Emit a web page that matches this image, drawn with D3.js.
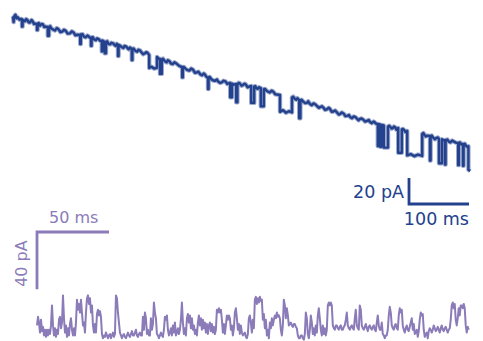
<!DOCTYPE html>
<html>
<head>
<meta charset="utf-8">
<script src="https://cdn.jsdelivr.net/npm/d3@7"></script>
<style>
  html, body { margin: 0; padding: 0; background: #fff; }
  svg { display: block; }
  text { font-family: 'DejaVu Sans', sans-serif; }
</style>
</head>
<body>
<svg width="483" height="341"></svg>
<script>
// top recording: [time ms, current pA], drifting baseline with channel openings
const topTrace = [
  [0,-1.0],[1,-5.5],[2,-1.2],[4,0.2],[6,-2.5],[8,-1.8],[11,-3.6],[14,-3.0],
  [15,-3.8],[15,-8.8],[16,-8.8],[16,-3.6],
  [20,-4.8],[22,-3.2],[24,-3.9],[26,-5.6],[28,-5.8],[31,-3.9],[33,-5.0],[35,-6.9],[37,-6.6],
  [40,-6.9],[40,-11.5],[41,-11.5],[41,-6.8],
  [43,-6.2],[45,-8.2],[48,-6.9],[50,-7.2],[52,-9.3],[54,-8.9],
  [58,-9.2],[58,-16],[60,-16],[60,-9.4],
  [62,-8.6],[64,-10.4],[67,-11.2],[70,-11.9],[73,-10.1],[76,-11.0],[79,-13.2],[82,-12.8],
  [85,-11.4],[88,-12.2],[91,-14.3],[95,-14.1],[98,-12.6],[101,-13.4],[104,-15.6],[107,-15.2],
  [112,-15.4],[112,-22.4],[113,-22.4],[113,-15.0],
  [116,-14.8],[118,-16.6],[121,-17.2],[124,-15.8],[126,-16.4],[128,-17.4],
  [130,-17.7],[130,-23.7],[131,-23.7],[131,-17.2],
  [133,-17.0],[135,-18.8],[138,-19.4],[140,-18.0],[143,-18.6],[145,-19.8],
  [148,-20],[148,-28],[149,-28],[149,-19.6],
  [153,-20.8],[153,-29.5],[155,-29.5],[155,-20.6],
  [157,-20.2],[159,-22.2],[162,-22.6],[164,-21.4],[167,-21.8],[169,-23.0],[171,-23.8],[173,-22.2],
  [175,-23.1],[175,-31.6],[176,-31.6],[176,-23.0],
  [178,-23.4],[181,-24.6],[184,-25.4],[186,-23.8],[189,-24.4],[191,-25.6],[193,-26.4],[195,-25.0],
  [198,-26.2],[198,-34.7],[199,-34.7],[199,-26.0],
  [201,-25.8],[204,-27.6],[207,-28.2],[209,-26.8],[212,-27.4],[214,-28.6],[217,-30.2],
  [220,-29.4],[222,-28.6],[224,-29.0],
  [227,-30.8],[227,-40.8],[231,-39.8],[235,-41.2],[240,-40.6],[240,-32.3],
  [243,-33.5],
  [245,-33.8],[245,-45.3],[248,-45.3],[248,-34.2],
  [250,-33.6],[253,-35.6],[256,-36.4],[258,-34.8],[261,-35.6],[263,-37.2],[266,-37.8],
  [269,-36.4],[272,-37.2],[275,-38.4],[277,-39.2],[279,-39.6],
  [282,-40],[282,-48],[283,-48],[283,-40.2],
  [285,-40.0],[288,-41.6],[291,-42.4],[294,-42.8],[297,-41.2],[300,-42.0],[303,-44.4],
  [306,-44.2],[309,-43.6],[312,-45.6],[315,-46.4],[318,-45.0],[320,-45.8],[322,-47.4],
  [325,-48.5],[325,-57],[326,-57],[326,-48.0],
  [328,-47.6],[331,-49.6],[334,-50.4],[337,-50.6],[340,-49.6],[342,-51.2],[345,-52.2],
  [348,-51.8],[351,-50.6],[354,-51.0],[357,-53.0],[359,-52.6],
  [362,-52.3],[362,-63.3],[365,-63.3],[365,-52.8],
  [368,-53.6],
  [372,-53.1],[372,-67.1],[374,-67.1],[374,-53.4],
  [376,-52.2],[378,-52.6],[381,-54.4],[383,-54.0],[386,-52.8],[388,-53.4],[391,-55.6],[393,-55.2],
  [397,-54.6],[397,-67.6],[402,-67.6],[402,-55.0],
  [404,-54.8],[406,-56.4],[408,-56.8],[410,-55.6],
  [413,-56.2],[413,-70.2],[418,-70.2],[418,-57.0],
  [420,-56.8],[423,-58.4],[426,-59.2],[428,-59.6],[431,-58.2],[434,-59.0],[437,-61.0],[440,-61.2],
  [445,-61.5],[445,-74.5],[450,-73.2],[455,-75.2],[460,-74.0],[465,-75.0],[465,-63.4],
  [467,-62.8],[470,-64.6],[472,-65.2],[474,-64.0],
  [477,-65.4],[477,-79.4],[479,-79.4],[479,-65.6],
  [481,-65.2],[484,-66.8],[487,-67.8],[490,-67.6],[492,-66.4],[495,-68.5],[498,-69.4],
  [501,-68.0],[504,-68.8],[507,-70.2],[510,-71.4],[512,-70.8],[515,-70.2],[518,-71.6],
  [520,-73.0],[523,-72.6],[526,-71.4],[528,-72.0],[531,-74.4],[534,-74.2],[537,-73.4],
  [540,-75.0],[543,-76.6],[545,-76.2],[548,-75.0],[551,-75.8],[554,-77.8],[557,-77.6],
  [560,-77.0],[562,-78.5],[565,-79.4],[568,-78.0],[571,-78.6],[573,-79.6],[576,-81.0],
  [578,-80.0],[581,-79.6],[584,-80.6],[587,-82.0],[590,-81.4],[593,-80.8],[595,-82.3],
  [598,-83.2],[601,-82.0],[603,-82.6],[605,-83.6],
  [608,-83.8],[608,-100.8],[610,-100.8],[610,-84.0],[612,-84.4],[612,-101.4],[614,-101.4],[614,-84.6],
  [618,-85.0],[618,-102],[625,-102],[625,-85.8],
  [627,-85.2],[629,-86.2],[631,-87.4],[633,-87.0],[635,-85.8],[637,-86.4],[639,-88.2],[640,-87.6],
  [642,-86.9],[642,-106],[648,-106],[648,-88.0],
  [650,-87.6],[652,-88.6],[654,-90.0],[655,-89.4],
  [657,-89.2],[657,-108],[663,-107],[669,-108.6],[675,-107.4],[682,-108.4],[682,-91.5],
  [684,-90.8],[686,-92.2],[688,-93.4],[690,-92.8],
  [695,-93.1],[695,-112],[696,-112],[696,-93.6],
  [698,-92.8],[700,-94.2],[703,-95.6],[705,-94.8],[708,-94.2],
  [710,-95.4],[710,-114],[715,-114],[715,-95.6],
  [718,-96.4],
  [720,-96.2],[720,-115],[721,-115],[721,-96.4],
  [724,-95.8],[726,-97.2],[729,-98.0],[732,-96.6],[735,-97.4],[738,-98.2],
  [742,-98.5],[742,-115.5],[743,-115.5],[743,-98.4],
  [745,-98.0],[747,-99.6],
  [750,-99.2],[750,-116],[751,-116],[751,-99.6],
  [753,-99.0],[755,-100.6],[757,-101.4],
  [759,-101],[759,-119],[762,-120]
];

// bottom recording: current in pA, one sample every bottomDt ms
const bottomDt = 0.694;
const bottomTrace = [
  6,12,8,1,10,2,5,-1,3,-2,
  3,-1,3,0,6,20,6,-1,4,-2,
  3,0,10,12,4,8,27,11,1,6,
  -2,4,-1,7,11,3,-1,4,-1,8,
  24,17,21,15,24,15,6,8,1,15,
  25,27,21,25,15,20,6,1,7,1,
  14,17,13,16,12,0,-3,-1,-2,1,
  -1,-3,-1,0,-3,-1,1,-2,0,27,
  25,15,8,1,-1,-3,-1,0,-2,-3,
  -1,1,-1,-2,0,2,-1,-1,1,3,
  -1,-2,0,1,-1,-1,12,3,15,11,
  0,3,-1,-1,11,3,7,22,15,11,
  0,-1,-3,-1,1,-1,-2,3,12,10,
  13,3,-1,1,4,-1,6,1,8,-1,
  1,4,0,3,10,22,8,0,4,-1,
  11,14,8,13,4,11,3,6,0,3,
  -1,8,13,6,11,3,10,4,8,1,
  7,0,6,8,2,7,1,5,0,3,
  17,15,18,15,17,10,1,7,0,6,
  13,10,13,11,3,6,-1,4,15,18,
  11,3,7,0,6,1,-1,0,1,-2,
  -3,0,11,13,8,1,10,4,24,26,
  21,25,22,26,23,24,10,14,4,10,
  -1,3,-3,8,4,11,6,10,13,11,
  15,12,13,11,3,-1,6,24,20,11,
  18,13,6,7,8,6,5,7,7,5,
  4,-1,-3,-3,-1,-1,-3,-4,0,15,
  11,0,-3,3,13,8,0,4,-1,6,
  1,13,18,11,3,-1,6,0,4,-1,
  3,20,22,20,22,20,6,4,3,6,
  6,4,3,5,6,3,3,5,6,10,
  15,6,4,3,5,6,4,3,11,17,
  6,4,3,20,17,6,4,3,5,7,
  4,2,5,6,4,3,5,6,3,2,
  8,13,6,3,3,8,0,-1,-3,-1,
  -1,3,13,19,15,6,4,3,6,7,
  4,3,13,18,15,17,6,3,1,4,
  6,3,2,5,8,11,3,7,0,1,
  3,-2,2,10,15,13,14,3,-2,0,
  1,-3,2,4,3,1,3,6,4,2,
  3,5,3,1,4,6,3,2,4,5,
  3,1,3,4,10,20,22,18,21,10,
  6,11,18,13,20,20,18,21,18,6,
  1,5,3
];

// scale bars
const topBarMs = 100;
const topBarPA = 20;
const bottomBarMs = 50;
const bottomBarPA = 40;
const topLabels = ['20 pA', '100 ms'];
const bottomLabels = ['40 pA', '50 ms'];

const topColor = '#23418d';
const bottomColor = '#8b7bb8';

const svg = d3.select('svg');

const xTop = d3.scaleLinear().domain([0, 760]).range([13, 469]);
const yTop = d3.scaleLinear().domain([0, -100]).range([15, 145]);
const xBot = d3.scaleLinear().domain([0, 300]).range([37, 469]);
const yBot = d3.scaleLinear().domain([0, 40]).range([334, 276.8]);

const topLine = d3.line().x(d => xTop(d[0])).y(d => yTop(d[1]));
const botLine = d3.line().x((d, i) => xBot(i * bottomDt)).y(d => yBot(d));

// traces: a soft wide stroke under a solid one gives the noisy band look
svg.append('path')
  .datum(topTrace)
  .attr('fill', 'none')
  .attr('stroke', topColor)
  .attr('stroke-opacity', 0.45)
  .attr('stroke-width', 4.4)
  .attr('stroke-linejoin', 'round')
  .attr('d', topLine);

svg.append('path')
  .datum(topTrace)
  .attr('fill', 'none')
  .attr('stroke', topColor)
  .attr('stroke-width', 2.4)
  .attr('stroke-linejoin', 'round')
  .attr('d', topLine);

svg.append('path')
  .datum(bottomTrace)
  .attr('fill', 'none')
  .attr('stroke', bottomColor)
  .attr('stroke-width', 2)
  .attr('stroke-linejoin', 'round')
  .attr('d', botLine);

// top scale bar, sits under the end of the trace
const tx0 = xTop(760 - topBarMs), tx1 = xTop(760), ty = 204;
const tLen = yTop(-topBarPA) - yTop(0);
svg.append('path')
  .attr('fill', 'none')
  .attr('stroke', topColor)
  .attr('stroke-width', 2.8)
  .attr('d', `M${tx0},${ty - tLen}V${ty}H${tx1}`);

svg.append('text')
  .attr('x', tx0 - 5).attr('y', 198)
  .attr('text-anchor', 'end')
  .attr('font-size', 17.5)
  .attr('fill', topColor)
  .text(topLabels[0]);

svg.append('text')
  .attr('x', tx1).attr('y', 225)
  .attr('text-anchor', 'end')
  .attr('font-size', 17.5)
  .attr('fill', topColor)
  .text(topLabels[1]);

// bottom scale bar
const bx0 = xBot(0), bx1 = xBot(bottomBarMs), by = 232;
const bLen = yBot(0) - yBot(bottomBarPA);
svg.append('path')
  .attr('fill', 'none')
  .attr('stroke', bottomColor)
  .attr('stroke-width', 2.8)
  .attr('d', `M${bx1},${by}H${bx0}V${by + bLen}`);

svg.append('text')
  .attr('x', 49).attr('y', 223)
  .attr('font-size', 16)
  .attr('fill', bottomColor)
  .text(bottomLabels[1]);

svg.append('text')
  .attr('transform', `translate(27,${by + bLen / 2 + 3}) rotate(-90)`)
  .attr('text-anchor', 'middle')
  .attr('font-size', 16)
  .attr('fill', bottomColor)
  .text(bottomLabels[0]);
</script>
</body>
</html>
